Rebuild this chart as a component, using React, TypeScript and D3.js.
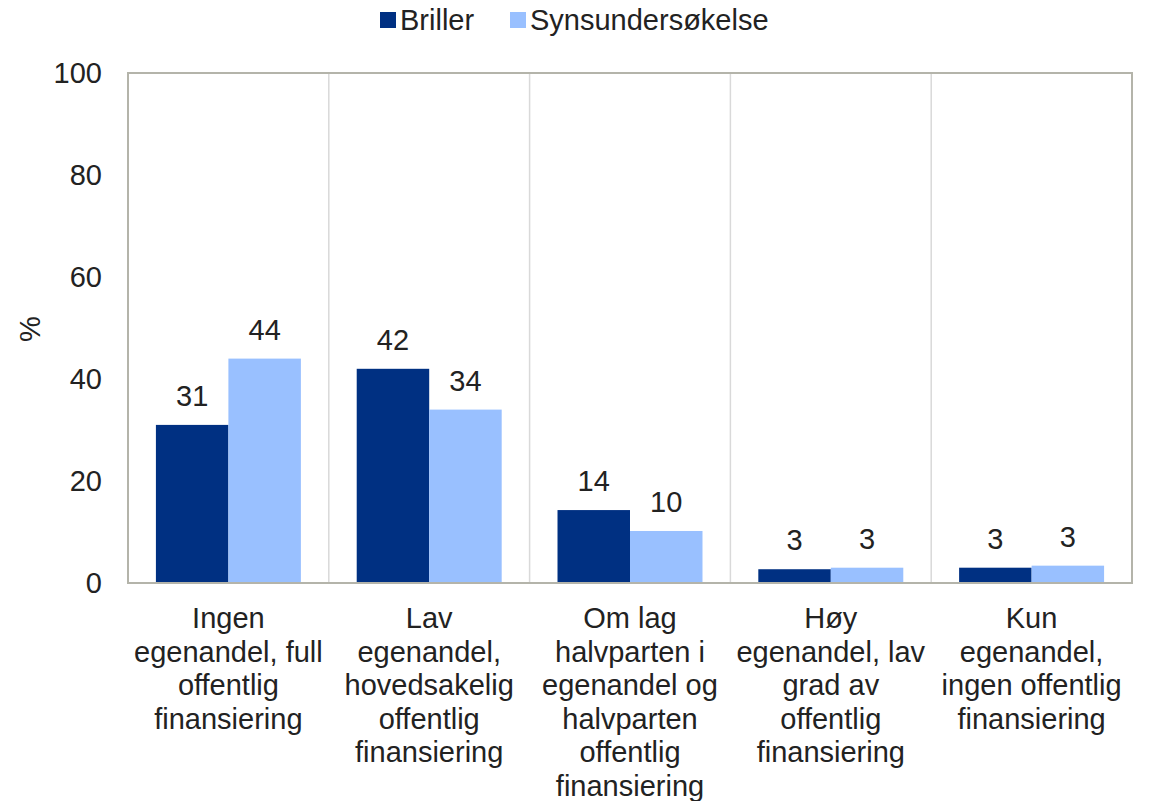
import React from "react";
import * as d3 from "d3";

const categories: string[][] = [
  ["Ingen", "egenandel, full", "offentlig", "finansiering"],
  ["Lav", "egenandel,", "hovedsakelig", "offentlig", "finansiering"],
  ["Om lag", "halvparten i", "egenandel og", "halvparten", "offentlig", "finansiering"],
  ["Høy", "egenandel, lav", "grad av", "offentlig", "finansiering"],
  ["Kun", "egenandel,", "ingen offentlig", "finansiering"],
];
const seriesNames = ["Briller", "Synsundersøkelse"];
const briller = [31, 42, 14.3, 2.7, 3.0];
const synsundersokelse = [44, 34, 10.2, 3.0, 3.4];
const yTicks = [0, 20, 40, 60, 80, 100];
const colors = ["#003082", "#99c0ff"];

const W = 1152;
const H = 801;
const M = { left: 128, right: 1132, top: 73, bottom: 583 };
const FONT = "'Liberation Sans', Arial, sans-serif";
const FS = 29;

export default function App() {
  const x = d3
    .scaleBand<number>()
    .domain(categories.map((_, i) => i))
    .range([M.left, M.right])
    .paddingInner(0)
    .paddingOuter(0);
  const y = d3.scaleLinear().domain([0, 100]).range([M.bottom, M.top]);
  const inner = d3
    .scaleBand<number>()
    .domain([0, 1])
    .range([0, x.bandwidth()])
    .paddingInner(0)
    .paddingOuter(0.385);
  const series = [briller, synsundersokelse];
  const fmt = d3.format(".0f");

  return (
    <svg width={W} height={H} style={{ position: "absolute", left: 0, top: 0 }} fontFamily={FONT}>
      <rect width={W} height={H} fill="#fff" />
      {/* legend */}
      <g fontSize={FS} fill="#222">
        <rect x={380} y={12} width={16} height={16} fill={colors[0]} />
        <text x={400} y={30}>{seriesNames[0]}</text>
        <rect x={510} y={12} width={16} height={16} fill={colors[1]} />
        <text x={530} y={30}>{seriesNames[1]}</text>
      </g>
      {/* vertical gridlines */}
      {categories.slice(1).map((_, i) => (
        <line
          key={i}
          x1={x(i + 1)}
          x2={x(i + 1)}
          y1={M.top}
          y2={M.bottom}
          stroke="#d9d9d9"
          strokeWidth={1.5}
        />
      ))}
      {/* bars */}
      {series.map((vals, s) =>
        vals.map((v, i) => (
          <rect
            key={`${s}-${i}`}
            x={(x(i) as number) + (inner(s) as number)}
            y={y(v)}
            width={inner.bandwidth()}
            height={y(0) - y(v)}
            fill={colors[s]}
          />
        ))
      )}
      {/* data labels */}
      {series.map((vals, s) =>
        vals.map((v, i) => (
          <text
            key={`l${s}-${i}`}
            x={(x(i) as number) + (inner(s) as number) + inner.bandwidth() / 2}
            y={y(v) - 19}
            textAnchor="middle"
            fontSize={FS}
            fill="#222"
          >
            {fmt(v)}
          </text>
        ))
      )}
      {/* plot border */}
      <rect
        x={M.left}
        y={M.top}
        width={M.right - M.left}
        height={M.bottom - M.top}
        fill="none"
        stroke="#b4b4aa"
        strokeWidth={2}
      />
      {/* y ticks */}
      {yTicks.map((t) => (
        <text key={t} x={102} y={y(t) + 10} textAnchor="end" fontSize={FS} fill="#222">
          {t}
        </text>
      ))}
      <text
        transform={`translate(40, 329) rotate(-90)`}
        textAnchor="middle"
        fontSize={FS}
        fill="#222"
      >
        %
      </text>
      {/* category labels */}
      {categories.map((lines, i) => (
        <text
          key={i}
          x={(x(i) as number) + x.bandwidth() / 2}
          y={M.bottom + 45}
          textAnchor="middle"
          fontSize={FS}
          fill="#222"
        >
          {lines.map((l, j) => (
            <tspan key={j} x={(x(i) as number) + x.bandwidth() / 2} dy={j === 0 ? 0 : 33.5}>
              {l}
            </tspan>
          ))}
        </text>
      ))}
    </svg>
  );
}
